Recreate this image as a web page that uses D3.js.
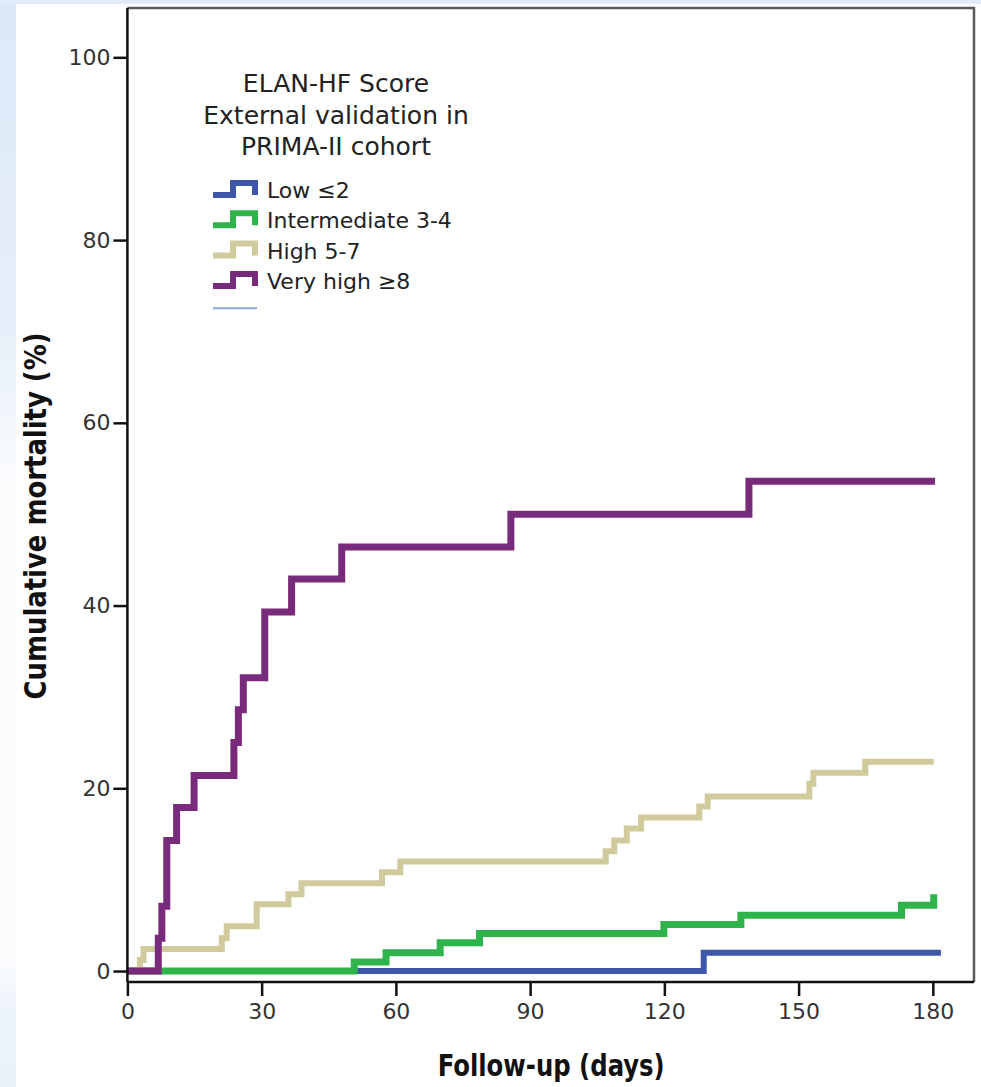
<!DOCTYPE html>
<html>
<head>
<meta charset="utf-8">
<script src="https://cdn.jsdelivr.net/npm/d3@7"></script>
<style>
  html, body { margin: 0; padding: 0; background: #ffffff; }
  svg { display: block; }
</style>
</head>
<body>
<svg id="chart" width="981" height="1087"></svg>
<script>
// Kaplan-Meier cumulative mortality, ELAN-HF score groups (PRIMA-II cohort)
const groups = ["Low \u22642", "Intermediate 3-4", "High 5-7", "Very high \u22658"];
const groupColors = ["#3e56a8", "#2fb34b", "#d0ca9d", "#782a7b"];

const lowDays = [0, 128.8, 181.8];
const lowMortality = [0, 2.0, 2.0];

const intermediateDays = [0, 50.7, 57.8, 69.9, 78.7, 119.9, 137.1, 173.0, 180.2];
const intermediateMortality = [0, 1.0, 2.0, 3.1, 4.1, 5.1, 6.1, 7.2, 8.4];

const highDays = [0, 2.8, 3.6, 21.1, 22.2, 28.9, 36.0, 38.9, 56.9, 61.0, 106.9, 108.8, 111.6, 114.8, 127.8, 129.7, 152.4, 153.3, 164.9, 180.2];
const highMortality = [0, 1.2, 2.4, 3.6, 4.9, 7.3, 8.4, 9.6, 10.8, 12.0, 13.1, 14.3, 15.6, 16.8, 18.0, 19.1, 20.5, 21.7, 22.9, 22.9];

const veryHighDays = [0, 6.9, 7.7, 8.8, 11.0, 14.9, 23.8, 24.8, 25.9, 30.7, 36.7, 47.9, 85.7, 138.9, 180.5];
const veryHighMortality = [0, 3.6, 7.1, 14.3, 17.9, 21.4, 25.0, 28.6, 32.1, 39.3, 42.9, 46.4, 50.0, 53.6, 53.6];

const xTicks = [0, 30, 60, 90, 120, 150, 180];
const yTicks = [0, 20, 40, 60, 80, 100];
const legendTitle = ["ELAN-HF Score", "External validation in", "PRIMA-II cohort"];

const series = [
  { name: groups[0], color: groupColors[0], days: lowDays, values: lowMortality, width: 6 },
  { name: groups[1], color: groupColors[1], days: intermediateDays, values: intermediateMortality, width: 7 },
  { name: groups[2], color: groupColors[2], days: highDays, values: highMortality, width: 6 },
  { name: groups[3], color: groupColors[3], days: veryHighDays, values: veryHighMortality, width: 7 }
];

const svg = d3.select("#chart");
const W = 981, H = 1087;
const box = { left: 127.4, right: 974, top: 8, bottom: 982 };

// page backdrop: pale blue fringe on the top and left edges
const defs = svg.append("defs");
const grad = defs.append("linearGradient").attr("id", "edgeFade")
  .attr("x1", 0).attr("y1", 0).attr("x2", 0).attr("y2", 1);
grad.append("stop").attr("offset", "0%").attr("stop-color", "#dce8f8");
grad.append("stop").attr("offset", "30%").attr("stop-color", "#e6eff9");
grad.append("stop").attr("offset", "45%").attr("stop-color", "#fbfcfe");
grad.append("stop").attr("offset", "88%").attr("stop-color", "#fbfcfe");
grad.append("stop").attr("offset", "93%").attr("stop-color", "#edf3fb");
grad.append("stop").attr("offset", "100%").attr("stop-color", "#eaf1fb");

svg.append("rect").attr("width", W).attr("height", H).attr("fill", "#ffffff");
svg.append("rect").attr("x", 0).attr("y", 0).attr("width", 16).attr("height", H).attr("fill", "url(#edgeFade)");
svg.append("rect").attr("x", 0).attr("y", 0).attr("width", W).attr("height", 4).attr("fill", "#e2ecf9");

const x = d3.scaleLinear().domain([0, 189.2]).range([box.left, box.right]);
const y = d3.scaleLinear().domain([-1.2, 105.4]).range([box.bottom, box.top]);

// frame (top and right edges)
svg.append("path")
  .attr("d", `M${box.left},${box.top}H${box.right}V${box.bottom}`)
  .attr("fill", "none").attr("stroke", "#5a5a5a").attr("stroke-width", 2.5);

// survival step curves
const line = d3.line()
  .x(d => x(d[0]))
  .y(d => y(d[1]))
  .curve(d3.curveStepAfter);

const curves = svg.append("g");
series.forEach(s => {
  const pts = s.days.map((d, i) => [d, s.values[i]]);
  curves.append("path")
    .datum(pts)
    .attr("d", line)
    .attr("fill", "none")
    .attr("stroke", s.color)
    .attr("stroke-width", s.width)
    .attr("stroke-linejoin", "miter")
    .attr("stroke-linecap", "butt");
});

// axes
const tickFont = "'DejaVu Sans', sans-serif";
const xAxis = svg.append("g")
  .attr("transform", `translate(0,${box.bottom})`)
  .call(d3.axisBottom(x).tickValues(xTicks).tickSize(14).tickSizeOuter(0).tickPadding(7));
const yAxis = svg.append("g")
  .attr("transform", `translate(${box.left},0)`)
  .call(d3.axisLeft(y).tickValues(yTicks).tickSize(14).tickSizeOuter(0).tickPadding(3));

[xAxis, yAxis].forEach(g => {
  g.select(".domain").attr("stroke", "#111").attr("stroke-width", 2.5);
  g.selectAll(".tick line").attr("stroke", "#111").attr("stroke-width", 2.5);
  g.selectAll(".tick text")
    .attr("font-family", tickFont).attr("font-size", 22).attr("fill", "#333");
});
// left axis line runs up to the top of the frame
yAxis.select(".domain").attr("d", `M0,${box.top}V${box.bottom}`);
xAxis.select(".domain").attr("d", `M${box.left},0H${box.right}`);

// axis titles
svg.append("text")
  .attr("x", (box.left + box.right) / 2 + 0.5)
  .attr("y", 1076)
  .attr("text-anchor", "middle")
  .attr("font-family", "'DejaVu Sans Condensed', 'DejaVu Sans', sans-serif")
  .attr("font-weight", "bold")
  .attr("font-size", 30)
  .attr("textLength", 227)
  .attr("lengthAdjust", "spacingAndGlyphs")
  .attr("fill", "#111")
  .text("Follow-up (days)");

svg.append("text")
  .attr("transform", "translate(46,516) rotate(-90)")
  .attr("text-anchor", "middle")
  .attr("font-family", "'DejaVu Sans Condensed', 'DejaVu Sans', sans-serif")
  .attr("font-weight", "bold")
  .attr("font-size", 31)
  .attr("textLength", 367)
  .attr("lengthAdjust", "spacingAndGlyphs")
  .attr("fill", "#111")
  .text("Cumulative mortality (%)");

// legend
const legend = svg.append("g");
legend.selectAll("text.title")
  .data(legendTitle)
  .join("text")
  .attr("class", "title")
  .attr("x", 336)
  .attr("y", (d, i) => 92 + i * 31.5)
  .attr("text-anchor", "middle")
  .attr("font-family", tickFont)
  .attr("font-size", 25)
  .attr("fill", "#222")
  .text(d => d);

const rowY = i => 190 + i * 30.3;
series.forEach((s, i) => {
  const r = rowY(i);
  legend.append("path")
    .attr("d", `M213,${r + 5}H233V${r - 7}H255V${r + 5}`)
    .attr("fill", "none")
    .attr("stroke", s.color)
    .attr("stroke-width", 6)
    .attr("stroke-linejoin", "miter");
  legend.append("text")
    .attr("x", 267)
    .attr("y", r + 8)
    .attr("font-family", tickFont)
    .attr("font-size", 22)
    .attr("fill", "#222")
    .text(s.name);
});
legend.append("line")
  .attr("x1", 213).attr("x2", 257)
  .attr("y1", rowY(4) - 3).attr("y2", rowY(4) - 3)
  .attr("stroke", "#8ea6da").attr("stroke-width", 2);
</script>
</body>
</html>
